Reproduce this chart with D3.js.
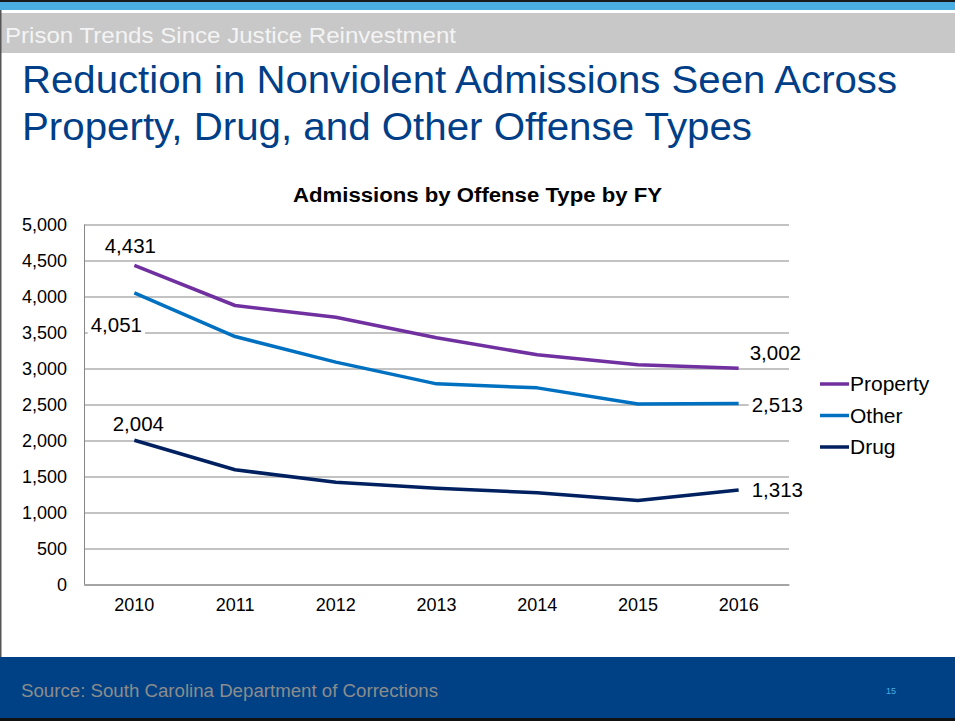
<!DOCTYPE html>
<html><head><meta charset="utf-8">
<script src="https://cdn.jsdelivr.net/npm/d3@7"></script>
<style>
html,body{margin:0;padding:0;background:#fff;}
svg{display:block;font-family:"Liberation Sans",Arial,sans-serif;}
</style></head>
<body><svg id="c" width="955" height="721"></svg>
<script>
const years = ["2010","2011","2012","2013","2014","2015","2016"];
const property = [4431, 3875, 3713, 3426, 3190, 3051, 3002];
const other = [4051, 3444, 3088, 2787, 2731, 2507, 2513];
const drug = [2004, 1593, 1421, 1338, 1273, 1167, 1313];
const seriesNames = ["Property", "Other", "Drug"];
const seriesColors = ["#7030a0", "#0070c0", "#002060"];
const yTicks = [0, 500, 1000, 1500, 2000, 2500, 3000, 3500, 4000, 4500, 5000];

const svg = d3.select("#c");
const W = 955, H = 721;

function fitText(sel, len) {
  sel.attr("textLength", len).attr("lengthAdjust", "spacingAndGlyphs");
  return sel;
}

// slide chrome
svg.append("rect").attr("x",0).attr("y",0).attr("width",W).attr("height",H).attr("fill","#fff");
svg.append("rect").attr("x",0).attr("y",0).attr("width",W).attr("height",2).attr("fill","#1a1a1a");
svg.append("rect").attr("x",0).attr("y",2).attr("width",W).attr("height",8).attr("fill","#4aaee3");
svg.append("rect").attr("x",0).attr("y",13).attr("width",W).attr("height",40).attr("fill","#c8c8c8");
fitText(svg.append("text").attr("x",5).attr("y",43).attr("fill","#f4f4f4")
  .style("font-size","22px").text("Prison Trends Since Justice Reinvestment"), 451);
svg.append("rect").attr("x",0).attr("y",10).attr("width",1.5).attr("height",650).attr("fill","#555");

// title
fitText(svg.append("text").attr("fill","#003f87").style("font-size","38px")
  .attr("x",22).attr("y",93).text("Reduction in Nonviolent Admissions Seen Across"), 875);
fitText(svg.append("text").attr("fill","#003f87").style("font-size","38px")
  .attr("x",22).attr("y",140).text("Property, Drug, and Other Offense Types"), 730);

// footer
svg.append("rect").attr("x",0).attr("y",657).attr("width",W).attr("height",64).attr("fill","#004185");
svg.append("rect").attr("x",0).attr("y",718).attr("width",W).attr("height",3).attr("fill","#111");
fitText(svg.append("text").attr("x",21).attr("y",697).attr("fill","#8c8c8c")
  .style("font-size","18px").text("Source: South Carolina Department of Corrections"), 417);
svg.append("text").attr("x",891).attr("y",694).attr("fill","#4aaee3").attr("text-anchor","middle")
  .style("font-size","9px").text("15");

// chart
const x0 = 84, x1 = 789, yTop = 224.5, yBot = 584.5;
const x = d3.scaleBand().domain(years).range([x0, x1]).padding(0);
const cx = d => x(d) + x.bandwidth()/2;
const y = d3.scaleLinear().domain([0, 5000]).range([yBot, yTop]);

fitText(svg.append("text").attr("x",293).attr("y",202)
  .style("font-size","19.5px").style("font-weight","bold").attr("fill","#000")
  .text("Admissions by Offense Type by FY"), 369);

const gy = svg.append("g").attr("transform",`translate(${x0},0)`)
  .call(d3.axisLeft(y).tickValues(yTicks).tickSize(-(x1-x0)).tickPadding(17).tickFormat(d3.format(",")));
gy.select(".domain").remove();
gy.selectAll(".tick line").attr("stroke","#868686").attr("stroke-width",1);
gy.selectAll(".tick text").attr("fill","#000").style("font-size","18px").attr("dy","0.36em")
  .attr("font-family","'Liberation Sans',Arial,sans-serif");
svg.append("line").attr("x1",x0+0.5).attr("x2",x0+0.5).attr("y1",yTop).attr("y2",yBot).attr("stroke","#868686");

const gx = svg.append("g").attr("transform",`translate(0,${yBot})`)
  .call(d3.axisBottom(x).tickSize(0).tickPadding(14));
gx.select(".domain").attr("stroke","#868686");
gx.selectAll(".tick text").attr("fill","#000").style("font-size","18px")
  .attr("font-family","'Liberation Sans',Arial,sans-serif");

const allSeries = [property, other, drug];
const line = d3.line().x((d,i) => cx(years[i])).y(d => y(d));
allSeries.forEach((s, k) => {
  svg.append("path").datum(s).attr("d", line).attr("fill","none")
    .attr("stroke", seriesColors[k]).attr("stroke-width",3.5).attr("stroke-linejoin","round");
});

// data labels
const fmt = d3.format(",");
function label(val, xPos, yPos, anchor, bg) {
  const t = svg.append("text").attr("x",xPos).attr("y",yPos).attr("text-anchor",anchor)
    .style("font-size","20.5px").attr("fill","#000").text(fmt(val));
  if (bg) {
    const b = t.node().getBBox();
    svg.insert("rect", () => t.node()).attr("x",b.x-3).attr("y",b.y).attr("width",b.width+6).attr("height",b.height).attr("fill","#fff");
  }
}
const first = years[0], last = years[years.length-1];
label(property[0], cx(first)-4, y(property[0])-12, "middle", false);
label(other[0], cx(first)-18, y(other[0])+39, "middle", true);
label(drug[0], cx(first)+4, y(drug[0])-9, "middle", false);
label(property[6], cx(last)+11, y(property[6])-8, "start", false);
label(other[6], cx(last)+13, y(other[6])+8, "start", true);
label(drug[6], cx(last)+13, y(drug[6])+7, "start", false);

// legend
seriesNames.forEach((n, k) => {
  const ly = 384 + k*31.5;
  svg.append("line").attr("x1",820).attr("x2",849).attr("y1",ly).attr("y2",ly)
    .attr("stroke",seriesColors[k]).attr("stroke-width",3.5);
  svg.append("text").attr("x",850).attr("y",ly+7).style("font-size","21px").attr("fill","#000").text(n);
});
</script></body></html>
